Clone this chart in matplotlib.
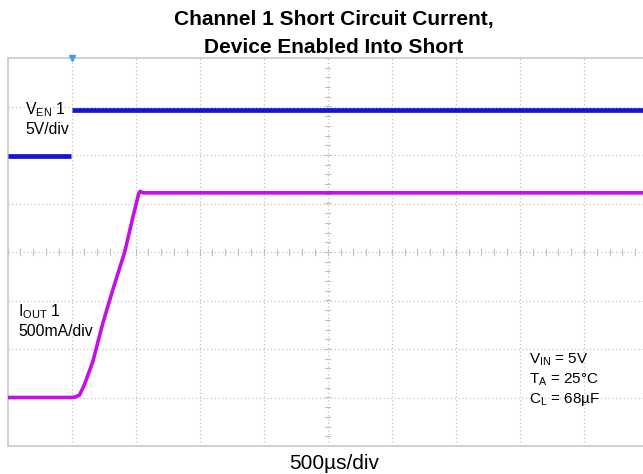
import numpy as np
import matplotlib
matplotlib.use('Agg')
import matplotlib.pyplot as plt

plt.rcParams['font.family'] = ['Liberation Sans', 'DejaVu Sans']

# scope settings
time_per_div = 500.0      # us
ven_per_div = 5.0         # V
iout_per_div = 0.5        # A
ven_offset = 1.98         # divisions from centre
iout_offset = -3.0
trigger_t = 500.0

# enable signal (V) - no visible edge on the capture
ven_t = [0.0, 495.0, np.nan, 505.0, 5000.0]
ven_v = [0.0, 0.0, np.nan, 4.7, 4.7]

# output current (A)
iout_t = [0.0, 497.0, 530.0, 562.0, 600.0, 666.0, 745.0, 822.0, 915.0,
          980.0, 1025.0, 1035.0, 1060.0, 5000.0]
iout_a = [0.0, 0.0, 0.005, 0.025, 0.13, 0.37, 0.77, 1.11, 1.5,
          1.865, 2.105, 2.125, 2.11, 2.11]

fig = plt.figure(figsize=(6.43, 4.74), dpi=100)
W, H = 643.0, 474.0
ax = fig.add_axes([7.5 / W, (H - 446) / H, 640.5 / W, (446 - 58) / H])

t = np.array(ven_t) / time_per_div
ax.plot(t, ven_offset + np.array(ven_v) / ven_per_div, color='#1414d2',
        lw=3.4, solid_capstyle='butt', zorder=3)
t = np.array(iout_t) / time_per_div
ax.plot(t, iout_offset + np.array(iout_a) / iout_per_div, color='#c40fe6',
        lw=2.6, solid_joinstyle='round', zorder=3)

ax.set_xlim(0, 10)
ax.set_ylim(-4, 4)
ax.set_xticks([])
ax.set_yticks([])
for s in ax.spines.values():
    s.set_color('#c8c8c8')
    s.set_linewidth(1.2)

grid_kw = dict(color='#c4c4c4', lw=0.9, ls=(0, (1, 2)), zorder=1)
for gx in range(1, 10):
    ax.axvline(gx, **grid_kw)
for gy in range(-3, 4):
    ax.axhline(gy, **grid_kw)

# centre-line minor ticks
for k in np.arange(0, 10.01, 0.2):
    ax.plot([k, k], [-0.06, 0.06], color='#c0c0c0', lw=0.8, zorder=1)
for k in np.arange(-4, 4.01, 0.2):
    ax.plot([4.96, 5.04], [k, k], color='#c0c0c0', lw=0.8, zorder=1)

ax.plot([trigger_t / time_per_div], [4], marker='v', ms=4.5,
        color='#3f9de0', clip_on=False, zorder=4)

fig.text(334 / W, 1 - 25 / H, 'Channel 1 Short Circuit Current,',
         ha='center', va='baseline', fontsize=15, fontweight='bold')
fig.text(334 / W, 1 - 53 / H, 'Device Enabled Into Short',
         ha='center', va='baseline', fontsize=15, fontweight='bold')

fs = 11.3
fig.text(25 / W, 1 - 114 / H, r'V$_{\mathregular{EN}}$ 1', fontsize=fs, va='baseline')
fig.text(25 / W, 1 - 134 / H, '5V/div', fontsize=fs, va='baseline')
fig.text(18 / W, 1 - 316 / H, r'I$_{\mathregular{OUT}}$ 1', fontsize=fs, va='baseline')
fig.text(18 / W, 1 - 336 / H, '500mA/div', fontsize=fs, va='baseline')

fs = 11
fig.text(529 / W, 1 - 363 / H, r'V$_{\mathregular{IN}}$ = 5V', fontsize=fs, va='baseline')
fig.text(529 / W, 1 - 383 / H, r'T$_{\mathregular{A}}$ = 25°C', fontsize=fs, va='baseline')
fig.text(529 / W, 1 - 403 / H, r'C$_{\mathregular{L}}$ = 68µF', fontsize=fs, va='baseline')

fig.text(334 / W, 1 - 469 / H, '500µs/div', ha='center', va='baseline', fontsize=15)

fig.savefig('out.png', dpi=100)
